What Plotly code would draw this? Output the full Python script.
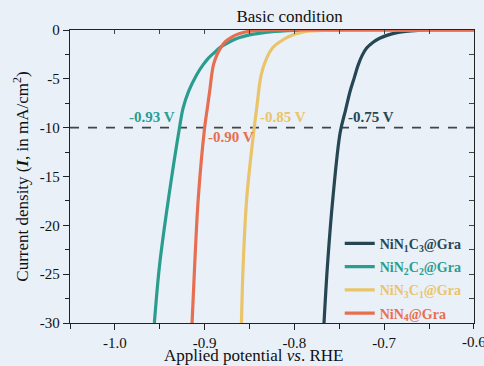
import plotly.graph_objects as go

# ---- data ----
names = ["NiN<sub>1</sub>C<sub>3</sub>@Gra", "NiN<sub>2</sub>C<sub>2</sub>@Gra",
         "NiN<sub>3</sub>C<sub>1</sub>@Gra", "NiN<sub>4</sub>@Gra"]
colors = ["#264653", "#2a9d8f", "#e9c46a", "#e76f51"]

e_n1c3 = [-0.767, -0.763, -0.757, -0.749, -0.743, -0.738, -0.733, -0.729, -0.7245, -0.7195, -0.713, -0.705, -0.697, -0.688, -0.676, -0.662, -0.645, -0.60]
j_n1c3 = [-30, -23.9, -17.1, -10.5, -8.2, -6.3, -4.8, -3.6, -2.6, -1.85, -1.3, -0.85, -0.55, -0.32, -0.15, -0.05, 0, 0]

e_n2c2 = [-0.956, -0.950, -0.940, -0.928, -0.924, -0.918, -0.909, -0.902, -0.896, -0.889, -0.883, -0.872, -0.862, -0.850, -0.838, -0.827, -0.80, -0.78, -0.60]
j_n2c2 = [-30, -23.9, -17.1, -10.0, -8.0, -6.3, -4.6, -3.6, -2.9, -2.3, -1.8, -1.2, -0.8, -0.5, -0.32, -0.2, -0.05, 0, 0]

e_n3c1 = [-0.859, -0.857, -0.853, -0.845, -0.842, -0.837, -0.831, -0.824, -0.816, -0.809, -0.802, -0.792, -0.783, -0.765, -0.75, -0.60]
j_n3c1 = [-30, -23.9, -17.1, -10.2, -8.0, -4.6, -2.9, -1.8, -1.2, -0.8, -0.5, -0.25, -0.1, -0.02, 0, 0]

e_n4 = [-0.914, -0.911, -0.907, -0.900, -0.897, -0.894, -0.892, -0.890, -0.8865, -0.882, -0.877, -0.871, -0.865, -0.858, -0.849, -0.840, -0.828, -0.60]
j_n4 = [-30, -23.9, -17.1, -10.0, -8.0, -6.0, -4.5, -3.5, -2.6, -1.8, -1.2, -0.8, -0.5, -0.28, -0.12, -0.03, 0, 0]

series_e = [e_n1c3, e_n2c2, e_n3c1, e_n4]
series_j = [j_n1c3, j_n2c2, j_n3c1, j_n4]

onset_labels = ["-0.75 V", "-0.93 V", "-0.85 V", "-0.90 V"]
onset_ref = -10

x_ticks = [-1.0, -0.9, -0.8, -0.7, -0.6]
x_ticktext = ["-1.0", "-0.9", "-0.8", "-0.7", "-0.6"]
y_ticks = [0, -5, -10, -15, -20, -25, -30]
y_ticktext = ["0", "-5", "-10", "-15", "-20", "-25", "-30"]

BG = "#e9f0f7"
FONT = "Liberation Serif, Times New Roman, serif"
XR = [-1.05, -0.5999]
YR = [-30.0001, 0.0001]

fig = go.Figure()

# reference dashed line
fig.add_trace(go.Scatter(x=[-1.05, -0.6], y=[onset_ref, onset_ref], mode="lines",
                         line=dict(color="#444444", width=1.6, dash="dash"),
                         showlegend=False, hoverinfo="skip"))

for k, (name, col, ex, jy) in enumerate(zip(names, colors, series_e, series_j)):
    fig.add_trace(go.Scatter(
        x=ex, y=jy, mode="lines", legendgroup=f"g{k}",
        line=dict(color=col, width=3.2, shape="spline", smoothing=1.0),
        name=f"<b><span style='color:{col}'>{name}</span></b>",
    ))

# annotations with onset potentials
ann_pos = [  # (x anchor, y, xanchor)
    (-0.743, -8.9, "left"),
    (-0.931, -8.9, "right"),
    (-0.840, -8.9, "left"),
    (-0.898, -11.0, "left"),
]
for (ax, ay, xa), lab, col in zip(ann_pos, onset_labels, colors):
    fig.add_annotation(x=ax, y=ay, text=f"<b>{lab}</b>", showarrow=False,
                       xanchor=xa, yanchor="middle",
                       font=dict(family=FONT, size=15, color=col))

# last x tick label (clipped at the page edge, as in the reference)
fig.add_annotation(x=x_ticks[-1], xref="x", y=-0.064, yref="paper", yanchor="middle",
                   text=x_ticktext[-1], showarrow=False, xanchor="center",
                   font=dict(family=FONT, size=15, color="#111111"))
# x-axis title
fig.add_annotation(x=(253 - 70) / 404, xref="paper", y=-0.111, yref="paper", yanchor="middle",
                   text="Applied potential <i>vs</i>. RHE", showarrow=False, xanchor="center",
                   font=dict(family=FONT, size=17, color="#111111"))

axis_common = dict(showgrid=False, zeroline=False, linecolor="#222222", linewidth=1.3,
                   tickcolor="#222222", tickfont=dict(family=FONT, size=15, color="#111111"))

fig.update_layout(
    width=484, height=366,
    margin=dict(l=70, r=10, t=30, b=43),
    paper_bgcolor=BG, plot_bgcolor=BG,
    font=dict(family=FONT, size=15, color="#111111"),
    title=dict(text="Basic condition", x=(263 / 484), xanchor="center", y=0.972, yanchor="top",
               xref="paper", font=dict(family=FONT, size=17, color="#111111")),
    xaxis=dict(range=XR, tickvals=x_ticks[:-1], ticktext=x_ticktext[:-1],
               ticks="outside", ticklen=6, tickwidth=1.2, ticklabelstandoff=0,
               minor=dict(tickvals=[-1.05, -0.95, -0.85, -0.75, -0.65, -0.6], ticks="outside",
                          ticklen=5, tickcolor="#222222"),
               showline=True, mirror=True, **axis_common),
    yaxis=dict(range=YR, tickvals=y_ticks, ticktext=y_ticktext,
               ticks="outside", ticklen=6, tickwidth=1.2,
               minor=dict(dtick=2.5, tick0=0, ticks="outside", ticklen=4, tickcolor="#222222"),
               title=dict(text="Current density (<b><i>I</i></b>, in mA/cm<sup>2</sup>)", standoff=6,
                          font=dict(family=FONT, size=17)),
               showline=True, mirror=True, **axis_common),
    xaxis2=dict(range=XR, overlaying="x", side="top",
                tickvals=[-1.05, -1.0, -0.95, -0.9, -0.85, -0.8, -0.75, -0.7, -0.65, -0.6],
                ticktext=[""] * 10,
                ticks="inside", ticklen=4, tickwidth=1.2, tickcolor="#444444",
                showgrid=False, zeroline=False, showline=False),
    yaxis2=dict(range=YR, overlaying="y", side="right",
                tickvals=[0, -2.5, -5, -7.5, -10, -12.5, -15, -17.5, -20, -22.5, -25, -27.5, -30],
                ticktext=[""] * 13,
                ticks="inside", ticklen=5, tickwidth=1.2, tickcolor="#444444",
                showgrid=False, zeroline=False, showline=False),
    legend=dict(x=0.982, xanchor="right", y=-0.02, yanchor="bottom",
                bgcolor="rgba(0,0,0,0)", font=dict(family=FONT, size=14),
                tracegroupgap=2, itemwidth=30),
)

# invisible trace to activate the mirrored tick axes
fig.add_trace(go.Scatter(x=[-1.0, -0.6], y=[-10, -20], xaxis="x2", yaxis="y2", mode="markers",
                         marker=dict(opacity=0), showlegend=False, hoverinfo="skip"))

fig.write_html("out.html")
